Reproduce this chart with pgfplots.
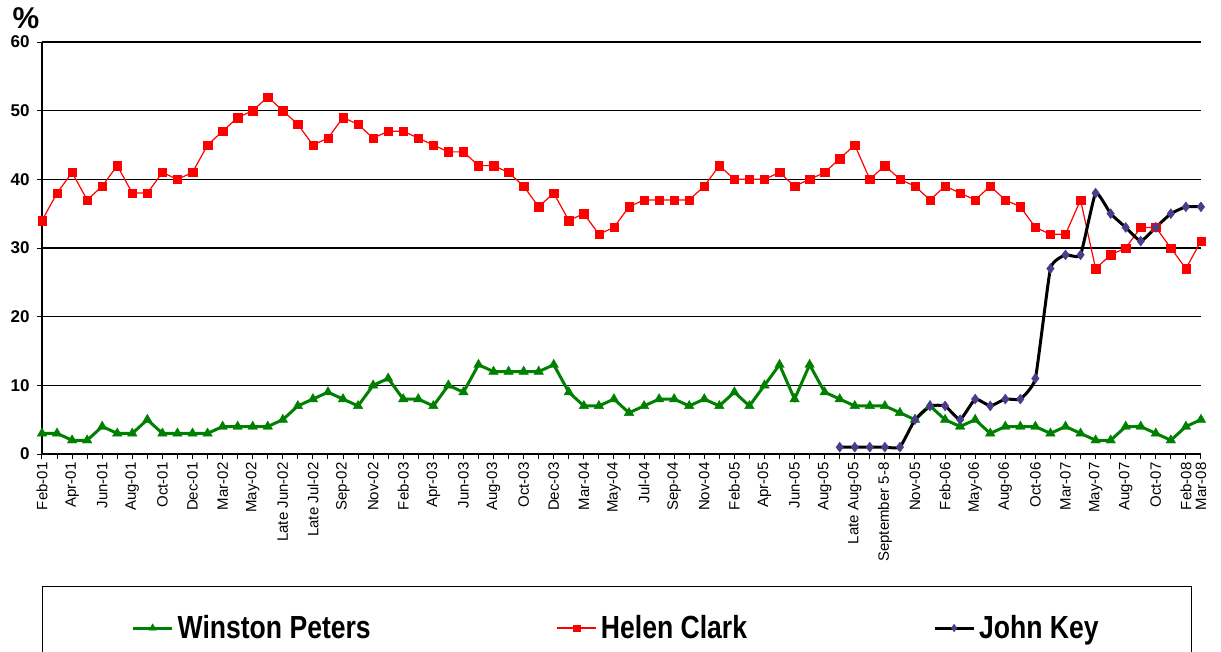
\documentclass[border=0pt]{standalone}
\usepackage{fontspec}
\setmainfont{Liberation Sans}
\newfontfamily\legfont[FakeStretch=0.83]{Liberation Sans}
\usepackage{pgfplots}
\pgfplotsset{compat=1.18}
\definecolor{wpgreen}{RGB}{0,128,0}
\definecolor{jkpurple}{RGB}{75,60,140}
\begin{document}
\begin{tikzpicture}
\useasboundingbox (-42pt,-197pt) rectangle (1179pt,454pt);
\begin{axis}[
  at={(0pt,0pt)}, anchor=south west,
  scale only axis, width=1159pt, height=412pt,
  xmin=0, xmax=77, ymin=0, ymax=60,
  clip=false,
  axis x line*=bottom, axis y line*=left,
  axis line style={black, line width=1.5pt, -},
  ymajorgrids, grid style={black, line width=1.2pt},
  ytick={0,10,...,60},
  xtick={0,2,...,76,77},
  minor xtick={1,3,...,75},
  xticklabels={Feb-01,Apr-01,Jun-01,Aug-01,Oct-01,Dec-01,Mar-02,May-02,Late Jun-02,Late Jul-02,Sep-02,Nov-02,Feb-03,Apr-03,Jun-03,Aug-03,Oct-03,Dec-03,Mar-04,May-04,Jul-04,Sep-04,Nov-04,Feb-05,Apr-05,Jun-05,Aug-05,Late Aug-05,September 5-8,Nov-05,Feb-06,May-06,Aug-06,Oct-06,Mar-07,May-07,Aug-07,Oct-07,Feb-08,Mar-08},
  tick align=outside, major tick length=5pt, minor tick length=5pt,
  tick style={black, line width=1pt},
  xticklabel style={rotate=90, anchor=east, font=\fontsize{15}{15}\selectfont},
  yticklabel style={font=\fontsize{17}{17}\selectfont\bfseries, xshift=-4pt},
  /pgf/number format/assume math mode=true,
  ylabel={\%},
  ylabel style={at={(axis description cs:-0.0138,1.057)}, rotate=-90, anchor=center, font=\fontsize{30}{30}\selectfont\bfseries},
  legend columns=3,
  legend image code/.code={\draw[mark repeat=2,mark phase=2] plot coordinates {(0pt,0pt) (19.5pt,0pt) (39pt,0pt)};},
  legend image post style={/tikz/every mark/.append style={scale=0.75}},
  legend style={at={(axis description cs:0,-0.3204)}, anchor=north west, draw=black, line width=1.3pt,
    inner xsep=89pt, inner ysep=27pt,
    font=\legfont\fontsize{32}{36}\selectfont\bfseries,
    nodes={inner xsep=4pt, inner ysep=2pt},
    /tikz/every even column/.append style={column sep=182pt}},
]
\addplot[wpgreen, line width=3pt, mark=triangle*, mark size=5.5pt, mark options={solid, fill=wpgreen, draw=wpgreen, line width=0.4pt}] coordinates {
(0,3)(1,3)(2,2)(3,2)(4,4)(5,3)(6,3)(7,5)(8,3)(9,3)
(10,3)(11,3)(12,4)(13,4)(14,4)(15,4)(16,5)(17,7)(18,8)(19,9)
(20,8)(21,7)(22,10)(23,11)(24,8)(25,8)(26,7)(27,10)(28,9)(29,13)
(30,12)(31,12)(32,12)(33,12)(34,13)(35,9)(36,7)(37,7)(38,8)(39,6)
(40,7)(41,8)(42,8)(43,7)(44,8)(45,7)(46,9)(47,7)(48,10)(49,13)
(50,8)(51,13)(52,9)(53,8)(54,7)(55,7)(56,7)(57,6)(58,5)(59,7)
(60,5)(61,4)(62,5)(63,3)(64,4)(65,4)(66,4)(67,3)(68,4)(69,3)
(70,2)(71,2)(72,4)(73,4)(74,3)(75,2)(76,4)(77,5)};
\addlegendentry{Winston Peters}
\addplot[red, line width=1.2pt, mark=square*, mark size=4.2pt, mark options={solid, fill=red, draw=red, line width=0.4pt}] coordinates {
(0,34)(1,38)(2,41)(3,37)(4,39)(5,42)(6,38)(7,38)(8,41)(9,40)
(10,41)(11,45)(12,47)(13,49)(14,50)(15,52)(16,50)(17,48)(18,45)(19,46)
(20,49)(21,48)(22,46)(23,47)(24,47)(25,46)(26,45)(27,44)(28,44)(29,42)
(30,42)(31,41)(32,39)(33,36)(34,38)(35,34)(36,35)(37,32)(38,33)(39,36)
(40,37)(41,37)(42,37)(43,37)(44,39)(45,42)(46,40)(47,40)(48,40)(49,41)
(50,39)(51,40)(52,41)(53,43)(54,45)(55,40)(56,42)(57,40)(58,39)(59,37)
(60,39)(61,38)(62,37)(63,39)(64,37)(65,36)(66,33)(67,32)(68,32)(69,37)
(70,27)(71,29)(72,30)(73,33)(74,33)(75,30)(76,27)(77,31)};
\addlegendentry{Helen Clark}
\addplot[black, line width=3pt, smooth, tension=0.25, mark=diamond*, mark size=5pt, mark options={solid, fill=jkpurple, draw=jkpurple, line width=0.4pt}] coordinates {
(53,1)(54,1)(55,1)(56,1)(57,1)(58,5)(59,7)(60,7)(61,5)(62,8)
(63,7)(64,8)(65,8)(66,11)(67,27)(68,29)(69,29)(70,38)(71,35)(72,33)
(73,31)(74,33)(75,35)(76,36)(77,36)};
\addlegendentry{John Key}
\end{axis}
\end{tikzpicture}
\end{document}
